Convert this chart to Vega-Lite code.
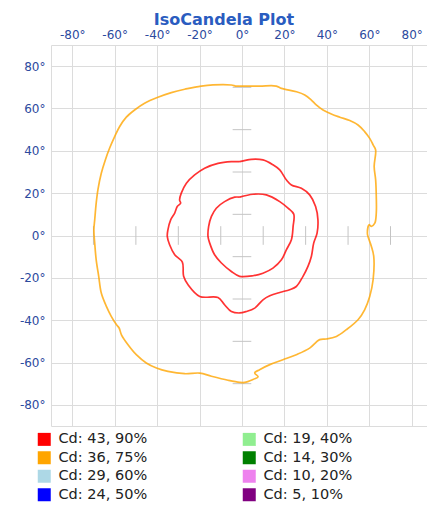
{
  "$schema": "https://vega.github.io/schema/vega-lite/v6.json",
  "width": 376,
  "height": 381,
  "autosize": {"type": "none"},
  "padding": {"left": 51, "top": 45, "right": 0, "bottom": 97},
  "background": "white",
  "title": {"text": "IsoCandela Plot", "font": "DejaVu Sans", "fontSize": 16, "fontWeight": "bold", "color": "#2a5cc0", "anchor": "middle", "frame": "group", "dx": -15, "offset": 0},
  "config": {
    "view": {"stroke": null},
    "axis": {"grid": true, "gridColor": "#dcdcdc", "gridWidth": 1, "ticks": false, "domain": false, "labelFont": "DejaVu Sans", "labelFontSize": 12, "labelColor": "#2c4a9e", "title": null}
  },
  "datasets": {
    "cross": [
      {"x": -70, "x2": -70, "y": -4.4, "y2": 4.4}, {"x": -50, "x2": -50, "y": -4.4, "y2": 4.4},
      {"x": -30, "x2": -30, "y": -4.4, "y2": 4.4}, {"x": -10, "x2": -10, "y": -4.4, "y2": 4.4},
      {"x": 10, "x2": 10, "y": -4.4, "y2": 4.4}, {"x": 30, "x2": 30, "y": -4.4, "y2": 4.4},
      {"x": 50, "x2": 50, "y": -4.4, "y2": 4.4}, {"x": 70, "x2": 70, "y": -4.4, "y2": 4.4},
      {"x": -4.4, "x2": 4.4, "y": -70, "y2": -70}, {"x": -4.4, "x2": 4.4, "y": -50, "y2": -50},
      {"x": -4.4, "x2": 4.4, "y": -30, "y2": -30}, {"x": -4.4, "x2": 4.4, "y": -10, "y2": -10},
      {"x": -4.4, "x2": 4.4, "y": 10, "y2": 10}, {"x": -4.4, "x2": 4.4, "y": 30, "y2": 30},
      {"x": -4.4, "x2": 4.4, "y": 50, "y2": 50}, {"x": -4.4, "x2": 4.4, "y": 70, "y2": 70}
    ],
    "contours": [
      {"c": "Cd: 36, 75%", "p": "o", "x": -1.1, "y": 70.6}, {"c": "Cd: 36, 75%", "p": "o", "x": 8.3, "y": 70.6},
      {"c": "Cd: 36, 75%", "p": "o", "x": 16.2, "y": 70.6}, {"c": "Cd: 36, 75%", "p": "o", "x": 18.6, "y": 69.5},
      {"c": "Cd: 36, 75%", "p": "o", "x": 25.7, "y": 67.9}, {"c": "Cd: 36, 75%", "p": "o", "x": 29.6, "y": 66.4},
      {"c": "Cd: 36, 75%", "p": "o", "x": 32.7, "y": 64.0}, {"c": "Cd: 36, 75%", "p": "o", "x": 35.0, "y": 61.7},
      {"c": "Cd: 36, 75%", "p": "o", "x": 38.2, "y": 59.3}, {"c": "Cd: 36, 75%", "p": "o", "x": 42.1, "y": 57.4},
      {"c": "Cd: 36, 75%", "p": "o", "x": 46.1, "y": 55.9}, {"c": "Cd: 36, 75%", "p": "o", "x": 50.8, "y": 54.3},
      {"c": "Cd: 36, 75%", "p": "o", "x": 54.7, "y": 52.2}, {"c": "Cd: 36, 75%", "p": "o", "x": 57.8, "y": 49.1},
      {"c": "Cd: 36, 75%", "p": "o", "x": 60.2, "y": 45.9}, {"c": "Cd: 36, 75%", "p": "o", "x": 61.8, "y": 42.8},
      {"c": "Cd: 36, 75%", "p": "o", "x": 63.0, "y": 40.4}, {"c": "Cd: 36, 75%", "p": "o", "x": 62.3, "y": 32.6},
      {"c": "Cd: 36, 75%", "p": "o", "x": 63.0, "y": 26.3}, {"c": "Cd: 36, 75%", "p": "o", "x": 63.3, "y": 18.4},
      {"c": "Cd: 36, 75%", "p": "o", "x": 63.3, "y": 10.6}, {"c": "Cd: 36, 75%", "p": "o", "x": 62.6, "y": 5.8},
      {"c": "Cd: 36, 75%", "p": "o", "x": 61.0, "y": 4.3}, {"c": "Cd: 36, 75%", "p": "o", "x": 59.9, "y": 5.1},
      {"c": "Cd: 36, 75%", "p": "o", "x": 59.1, "y": 1.1}, {"c": "Cd: 36, 75%", "p": "o", "x": 59.4, "y": -0.5},
      {"c": "Cd: 36, 75%", "p": "o", "x": 61.0, "y": -5.2}, {"c": "Cd: 36, 75%", "p": "o", "x": 62.1, "y": -9.9},
      {"c": "Cd: 36, 75%", "p": "o", "x": 61.8, "y": -20.9}, {"c": "Cd: 36, 75%", "p": "o", "x": 60.2, "y": -28.8},
      {"c": "Cd: 36, 75%", "p": "o", "x": 57.8, "y": -35.1}, {"c": "Cd: 36, 75%", "p": "o", "x": 54.7, "y": -39.8},
      {"c": "Cd: 36, 75%", "p": "o", "x": 49.2, "y": -44.5}, {"c": "Cd: 36, 75%", "p": "o", "x": 44.5, "y": -47.7},
      {"c": "Cd: 36, 75%", "p": "o", "x": 39.8, "y": -48.9}, {"c": "Cd: 36, 75%", "p": "o", "x": 36.6, "y": -49.2},
      {"c": "Cd: 36, 75%", "p": "o", "x": 31.9, "y": -53.2}, {"c": "Cd: 36, 75%", "p": "o", "x": 25.6, "y": -56.3},
      {"c": "Cd: 36, 75%", "p": "o", "x": 19.3, "y": -58.7}, {"c": "Cd: 36, 75%", "p": "o", "x": 13.1, "y": -61.0},
      {"c": "Cd: 36, 75%", "p": "o", "x": 8.3, "y": -63.4}, {"c": "Cd: 36, 75%", "p": "o", "x": 6.0, "y": -64.9},
      {"c": "Cd: 36, 75%", "p": "o", "x": 7.6, "y": -66.8}, {"c": "Cd: 36, 75%", "p": "o", "x": 5.2, "y": -68.0},
      {"c": "Cd: 36, 75%", "p": "o", "x": 1.3, "y": -69.4}, {"c": "Cd: 36, 75%", "p": "o", "x": -1.1, "y": -69.4},
      {"c": "Cd: 36, 75%", "p": "o", "x": -6.6, "y": -68.4}, {"c": "Cd: 36, 75%", "p": "o", "x": -14.4, "y": -66.5},
      {"c": "Cd: 36, 75%", "p": "o", "x": -19.9, "y": -65.0}, {"c": "Cd: 36, 75%", "p": "o", "x": -27.0, "y": -65.3},
      {"c": "Cd: 36, 75%", "p": "o", "x": -34.9, "y": -64.2}, {"c": "Cd: 36, 75%", "p": "o", "x": -40.3, "y": -62.6},
      {"c": "Cd: 36, 75%", "p": "o", "x": -45.1, "y": -60.2}, {"c": "Cd: 36, 75%", "p": "o", "x": -49.8, "y": -56.3},
      {"c": "Cd: 36, 75%", "p": "o", "x": -53.7, "y": -51.6}, {"c": "Cd: 36, 75%", "p": "o", "x": -56.8, "y": -46.9},
      {"c": "Cd: 36, 75%", "p": "o", "x": -57.9, "y": -43.7}, {"c": "Cd: 36, 75%", "p": "o", "x": -59.2, "y": -42.1},
      {"c": "Cd: 36, 75%", "p": "o", "x": -61.6, "y": -38.2}, {"c": "Cd: 36, 75%", "p": "o", "x": -63.9, "y": -33.5},
      {"c": "Cd: 36, 75%", "p": "o", "x": -66.3, "y": -27.2}, {"c": "Cd: 36, 75%", "p": "o", "x": -67.5, "y": -19.4},
      {"c": "Cd: 36, 75%", "p": "o", "x": -68.7, "y": -11.5}, {"c": "Cd: 36, 75%", "p": "o", "x": -69.4, "y": -3.6},
      {"c": "Cd: 36, 75%", "p": "o", "x": -69.8, "y": 2.7}, {"c": "Cd: 36, 75%", "p": "o", "x": -69.4, "y": 7.4},
      {"c": "Cd: 36, 75%", "p": "o", "x": -68.7, "y": 15.3}, {"c": "Cd: 36, 75%", "p": "o", "x": -67.9, "y": 21.6},
      {"c": "Cd: 36, 75%", "p": "o", "x": -66.3, "y": 29.4}, {"c": "Cd: 36, 75%", "p": "o", "x": -64.4, "y": 35.7},
      {"c": "Cd: 36, 75%", "p": "o", "x": -62.4, "y": 41.2}, {"c": "Cd: 36, 75%", "p": "o", "x": -60.0, "y": 46.7},
      {"c": "Cd: 36, 75%", "p": "o", "x": -57.7, "y": 51.4}, {"c": "Cd: 36, 75%", "p": "o", "x": -54.5, "y": 55.9},
      {"c": "Cd: 36, 75%", "p": "o", "x": -50.6, "y": 59.3}, {"c": "Cd: 36, 75%", "p": "o", "x": -45.9, "y": 62.5},
      {"c": "Cd: 36, 75%", "p": "o", "x": -39.6, "y": 65.3}, {"c": "Cd: 36, 75%", "p": "o", "x": -33.3, "y": 67.5},
      {"c": "Cd: 36, 75%", "p": "o", "x": -27.0, "y": 69.1}, {"c": "Cd: 36, 75%", "p": "o", "x": -19.2, "y": 70.6},
      {"c": "Cd: 36, 75%", "p": "o", "x": -5.0, "y": 71.1}, {"c": "Cd: 36, 75%", "p": "o", "x": -3.0, "y": 70.6},
      {"c": "Cd: 36, 75%", "p": "o", "x": -1.1, "y": 70.6},

      {"c": "Cd: 43, 90%", "p": "m", "x": -1.1, "y": 34.9}, {"c": "Cd: 43, 90%", "p": "m", "x": 4.4, "y": 36.0},
      {"c": "Cd: 43, 90%", "p": "m", "x": 9.9, "y": 35.7}, {"c": "Cd: 43, 90%", "p": "m", "x": 14.6, "y": 33.4},
      {"c": "Cd: 43, 90%", "p": "m", "x": 17.8, "y": 31.0}, {"c": "Cd: 43, 90%", "p": "m", "x": 20.9, "y": 26.3},
      {"c": "Cd: 43, 90%", "p": "m", "x": 23.3, "y": 23.9}, {"c": "Cd: 43, 90%", "p": "m", "x": 28.0, "y": 22.3},
      {"c": "Cd: 43, 90%", "p": "m", "x": 31.9, "y": 19.2}, {"c": "Cd: 43, 90%", "p": "m", "x": 34.7, "y": 13.7},
      {"c": "Cd: 43, 90%", "p": "m", "x": 35.8, "y": 7.4}, {"c": "Cd: 43, 90%", "p": "m", "x": 35.4, "y": 1.1},
      {"c": "Cd: 43, 90%", "p": "m", "x": 33.8, "y": -3.6}, {"c": "Cd: 43, 90%", "p": "m", "x": 32.7, "y": -9.9},
      {"c": "Cd: 43, 90%", "p": "m", "x": 31.1, "y": -14.6}, {"c": "Cd: 43, 90%", "p": "m", "x": 28.7, "y": -19.4},
      {"c": "Cd: 43, 90%", "p": "m", "x": 25.6, "y": -24.1}, {"c": "Cd: 43, 90%", "p": "m", "x": 22.5, "y": -25.6},
      {"c": "Cd: 43, 90%", "p": "m", "x": 17.8, "y": -26.9}, {"c": "Cd: 43, 90%", "p": "m", "x": 13.1, "y": -28.5},
      {"c": "Cd: 43, 90%", "p": "m", "x": 9.9, "y": -30.4}, {"c": "Cd: 43, 90%", "p": "m", "x": 6.0, "y": -34.3},
      {"c": "Cd: 43, 90%", "p": "m", "x": 2.1, "y": -35.9}, {"c": "Cd: 43, 90%", "p": "m", "x": -1.1, "y": -36.6},
      {"c": "Cd: 43, 90%", "p": "m", "x": -5.0, "y": -35.9}, {"c": "Cd: 43, 90%", "p": "m", "x": -8.2, "y": -32.7},
      {"c": "Cd: 43, 90%", "p": "m", "x": -11.3, "y": -29.3}, {"c": "Cd: 43, 90%", "p": "m", "x": -19.9, "y": -28.8},
      {"c": "Cd: 43, 90%", "p": "m", "x": -25.4, "y": -23.3}, {"c": "Cd: 43, 90%", "p": "m", "x": -27.5, "y": -19.3},
      {"c": "Cd: 43, 90%", "p": "m", "x": -28.1, "y": -12.6}, {"c": "Cd: 43, 90%", "p": "m", "x": -31.7, "y": -9.1},
      {"c": "Cd: 43, 90%", "p": "m", "x": -34.1, "y": -4.4}, {"c": "Cd: 43, 90%", "p": "m", "x": -35.2, "y": -0.4},
      {"c": "Cd: 43, 90%", "p": "m", "x": -34.9, "y": 2.7}, {"c": "Cd: 43, 90%", "p": "m", "x": -33.6, "y": 7.4},
      {"c": "Cd: 43, 90%", "p": "m", "x": -31.7, "y": 10.6}, {"c": "Cd: 43, 90%", "p": "m", "x": -30.5, "y": 13.7},
      {"c": "Cd: 43, 90%", "p": "m", "x": -28.9, "y": 15.3}, {"c": "Cd: 43, 90%", "p": "m", "x": -29.4, "y": 16.8},
      {"c": "Cd: 43, 90%", "p": "m", "x": -28.6, "y": 20.0}, {"c": "Cd: 43, 90%", "p": "m", "x": -26.2, "y": 24.7},
      {"c": "Cd: 43, 90%", "p": "m", "x": -22.3, "y": 28.6}, {"c": "Cd: 43, 90%", "p": "m", "x": -17.6, "y": 31.8},
      {"c": "Cd: 43, 90%", "p": "m", "x": -11.3, "y": 34.1}, {"c": "Cd: 43, 90%", "p": "m", "x": -5.0, "y": 34.9},
      {"c": "Cd: 43, 90%", "p": "m", "x": -1.1, "y": 34.9},

      {"c": "Cd: 43, 90%", "p": "i", "x": -1.1, "y": 18.1}, {"c": "Cd: 43, 90%", "p": "i", "x": 5.2, "y": 19.5},
      {"c": "Cd: 43, 90%", "p": "i", "x": 11.5, "y": 19.2}, {"c": "Cd: 43, 90%", "p": "i", "x": 17.8, "y": 16.0},
      {"c": "Cd: 43, 90%", "p": "i", "x": 21.7, "y": 12.9}, {"c": "Cd: 43, 90%", "p": "i", "x": 24.4, "y": 10.1},
      {"c": "Cd: 43, 90%", "p": "i", "x": 24.1, "y": 4.3}, {"c": "Cd: 43, 90%", "p": "i", "x": 23.3, "y": -2.0},
      {"c": "Cd: 43, 90%", "p": "i", "x": 20.9, "y": -6.8}, {"c": "Cd: 43, 90%", "p": "i", "x": 18.6, "y": -11.5},
      {"c": "Cd: 43, 90%", "p": "i", "x": 14.6, "y": -15.4}, {"c": "Cd: 43, 90%", "p": "i", "x": 9.9, "y": -17.8},
      {"c": "Cd: 43, 90%", "p": "i", "x": 5.2, "y": -19.0}, {"c": "Cd: 43, 90%", "p": "i", "x": -1.1, "y": -19.3},
      {"c": "Cd: 43, 90%", "p": "i", "x": -5.0, "y": -17.0}, {"c": "Cd: 43, 90%", "p": "i", "x": -9.7, "y": -13.0},
      {"c": "Cd: 43, 90%", "p": "i", "x": -12.9, "y": -9.1}, {"c": "Cd: 43, 90%", "p": "i", "x": -15.2, "y": -3.6},
      {"c": "Cd: 43, 90%", "p": "i", "x": -16.0, "y": -0.5}, {"c": "Cd: 43, 90%", "p": "i", "x": -15.7, "y": 4.3},
      {"c": "Cd: 43, 90%", "p": "i", "x": -14.4, "y": 9.0}, {"c": "Cd: 43, 90%", "p": "i", "x": -12.1, "y": 12.9},
      {"c": "Cd: 43, 90%", "p": "i", "x": -8.2, "y": 16.0}, {"c": "Cd: 43, 90%", "p": "i", "x": -3.4, "y": 18.1},
      {"c": "Cd: 43, 90%", "p": "i", "x": -1.1, "y": 18.1}
    ]
  },
  "encoding": {
    "x": {"field": "x", "type": "quantitative",
      "scale": {"domain": [-90, 87.2], "nice": false, "zero": false},
      "axis": {"orient": "top", "values": [-90, -80, -60, -40, -20, 0, 20, 40, 60, 80], "labelExpr": "datum.value == -90 ? '' : datum.value + '°'", "labelPadding": 4, "labelDx": 6, "labelFlush": false, "labelOverlap": false}},
    "y": {"field": "y", "type": "quantitative",
      "scale": {"domain": [-90, 90], "nice": false, "zero": false},
      "axis": {"values": [-90, -80, -60, -40, -20, 0, 20, 40, 60, 80, 90], "labelExpr": "abs(datum.value) == 90 ? '' : datum.value + '°'", "labelPadding": 6, "labelFlush": false, "labelOverlap": false}}
  },
  "layer": [
    {
      "data": {"name": "cross"},
      "mark": {"type": "rule", "color": "#c4c4c4", "strokeWidth": 1},
      "encoding": {"x2": {"field": "x2"}, "y2": {"field": "y2"}}
    },
    {
      "data": {"name": "contours"},
      "mark": {"type": "line", "strokeWidth": 1.7, "opacity": 0.8, "interpolate": "catmull-rom"},
      "encoding": {
        "detail": {"field": "p", "type": "nominal"},
        "order": {"value": null},
        "color": {"field": "c", "type": "nominal",
          "scale": {"domain": ["Cd: 43, 90%", "Cd: 36, 75%", "Cd: 29, 60%", "Cd: 24, 50%", "Cd: 19, 40%", "Cd: 14, 30%", "Cd: 10, 20%", "Cd: 5, 10%"],
                    "range": ["#ff0000", "#ffa500", "#add8e6", "#0000ff", "#90ee90", "#008000", "#ee82ee", "#800080"]},
          "legend": {"title": null, "orient": "none", "legendX": -14, "legendY": 387, "columns": 2, "columnPadding": 94, "rowPadding": 3.5, "padding": 0,
            "symbolType": "square", "symbolSize": 169, "symbolStrokeWidth": 0, "symbolOpacity": 1,
            "labelFont": "DejaVu Sans", "labelFontSize": 14.5, "labelColor": "#222222", "labelOffset": 7, "labelLimit": 300,
            "encode": {"symbols": {"update": {"fill": {"scale": "color", "field": "value"}, "fillOpacity": {"value": 1}, "opacity": {"value": 1}, "strokeWidth": {"value": 0}}}}}
        }
      }
    }
  ]
}
